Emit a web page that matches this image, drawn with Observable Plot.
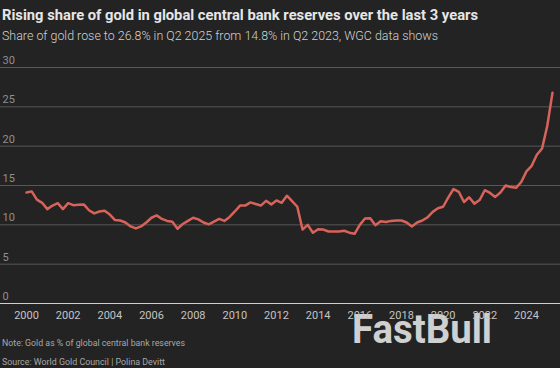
<!DOCTYPE html>
<html><head><meta charset="utf-8">
<script src="https://cdn.jsdelivr.net/npm/d3@7"></script>
<script src="https://cdn.jsdelivr.net/npm/@observablehq/plot@0.6"></script>
<style>
html,body{margin:0;padding:0;background:#232323;}
#wrap{position:relative;width:560px;height:368px;overflow:hidden;background:#232323;}
#wrap svg{position:absolute;left:0;}
</style></head><body><div id="wrap"></div>
<script>
const titleText = "Rising share of gold in global central bank reserves over the last 3 years";
const subtitleText = "Share of gold rose to 26.8% in Q2 2025 from 14.8% in Q2 2023, WGC data shows";
const noteText = "Note: Gold as % of global central bank reserves";
const sourceText = "Source: World Gold Council | Polina Devitt";
const watermarkText = "FastBull";

// Quarterly share of gold in central bank reserves (%), Q1 2000 .. Q2 2025
const firstYear = 2000;
const shareOfGold = [
  14.1, 14.25, 13.2, 12.8,
  12.0, 12.45, 12.75, 12.0,
  12.75, 12.5, 12.55, 12.6,
  11.85, 11.45, 11.7, 11.8,
  11.3, 10.6, 10.55, 10.3,
  9.8, 9.55, 9.8, 10.3,
  10.9, 11.2, 10.75, 10.5,
  10.4, 9.5, 10.1, 10.5,
  10.9, 10.7, 10.3, 10.05,
  10.4, 10.75, 10.5, 11.0,
  11.7, 12.45, 12.45, 12.85,
  12.65, 12.45, 13.05, 12.6,
  13.1, 12.8, 13.7, 13.0,
  12.3, 9.4, 10.0, 9.0,
  9.45, 9.4, 9.15, 9.15,
  9.15, 9.25, 9.0, 8.86,
  10.0, 10.8, 10.85, 9.95,
  10.45, 10.35, 10.5, 10.55,
  10.55, 10.3, 9.8, 10.3,
  10.55, 10.95, 11.65, 12.1,
  12.3, 13.5, 14.55, 14.2,
  12.9, 13.5, 12.7, 13.15,
  14.4, 14.05, 13.55, 14.1,
  15.0, 14.8, 14.7, 15.45,
  16.8, 17.5, 18.9, 19.7,
  22.6, 26.8
];
const yTicks = [0, 5, 10, 15, 20, 25, 30];
const xTicks = [2000, 2002, 2004, 2006, 2008, 2010, 2012, 2014, 2016, 2018, 2020, 2022, 2024];

const data = shareOfGold.map((v, i) => ({date: firstYear + i / 4, value: v}));
const wrap = document.getElementById("wrap");

// Header
const head = d3.create("svg").attr("width", 560).attr("height", 48).style("top", "0px");
head.append("text").attr("x", 2).attr("y", 20).text(titleText)
  .attr("font-family", "Roboto").attr("font-weight", 700).attr("font-size", 14.5)
  .attr("fill", "#e6e6e6").attr("textLength", 476).attr("lengthAdjust", "spacingAndGlyphs");
head.append("text").attr("x", 2).attr("y", 40).text(subtitleText)
  .attr("font-family", "Roboto").attr("font-weight", 300).attr("font-size", 13)
  .attr("fill", "#d2d2d2").attr("textLength", 436).attr("lengthAdjust", "spacingAndGlyphs");
wrap.appendChild(head.node());

// Footer (drawn beneath the chart so the axis labels sit on top of the watermark)
const foot = d3.create("svg").attr("width", 560).attr("height", 68).style("top", "300px");
foot.append("text").attr("x", 352).attr("y", 43).text(watermarkText)
  .attr("font-family", "Roboto").attr("font-weight", 700).attr("font-size", 40)
  .attr("fill", "#d0d0d0").attr("textLength", 140).attr("lengthAdjust", "spacingAndGlyphs");
foot.append("text").attr("x", 2).attr("y", 46).text(noteText)
  .attr("font-family", "Roboto").attr("font-size", 9).attr("fill", "#a8a8a8")
  .attr("textLength", 183).attr("lengthAdjust", "spacingAndGlyphs");
foot.append("text").attr("x", 2).attr("y", 64.5).text(sourceText)
  .attr("font-family", "Roboto").attr("font-size", 9).attr("fill", "#a8a8a8")
  .attr("textLength", 163).attr("lengthAdjust", "spacingAndGlyphs");
wrap.appendChild(foot.node());

// Chart
const plot = Plot.plot({
  width: 560, height: 279,
  marginLeft: 26, marginRight: 8, marginTop: 19, marginBottom: 24,
  style: {background: "transparent", color: "#bdbdbd", fontFamily: "Roboto", fontSize: "11px"},
  x: {domain: [2000, 2025.25], label: null},
  y: {domain: [0, 30], label: null},
  marks: [
    Plot.ruleY(yTicks.filter(d => d > 0), {stroke: "#575757", strokeWidth: 1, insetLeft: -26, insetRight: -8}),
    Plot.ruleY([0], {stroke: "#cfcfcf", strokeWidth: 1, insetLeft: -26, insetRight: -8}),
    Plot.axisY(yTicks, {anchor: "left", label: null, tickSize: 0, tickPadding: 0, textAnchor: "start", dx: -24, dy: -7, fill: "#8f8f8f", fontSize: 11}),
    Plot.axisX(xTicks, {anchor: "bottom", label: null, tickSize: 0, tickPadding: 8, tickFormat: d => String(d), fill: "#c4c4c4", fontSize: 11}),
    Plot.line(data, {x: "date", y: "value", stroke: "#d8635a", strokeWidth: 2.5, strokeLinejoin: "round"})
  ]
});
plot.style.position = "absolute";
plot.style.top = "48px";
plot.style.left = "0px";
wrap.appendChild(plot);
</script></body></html>
